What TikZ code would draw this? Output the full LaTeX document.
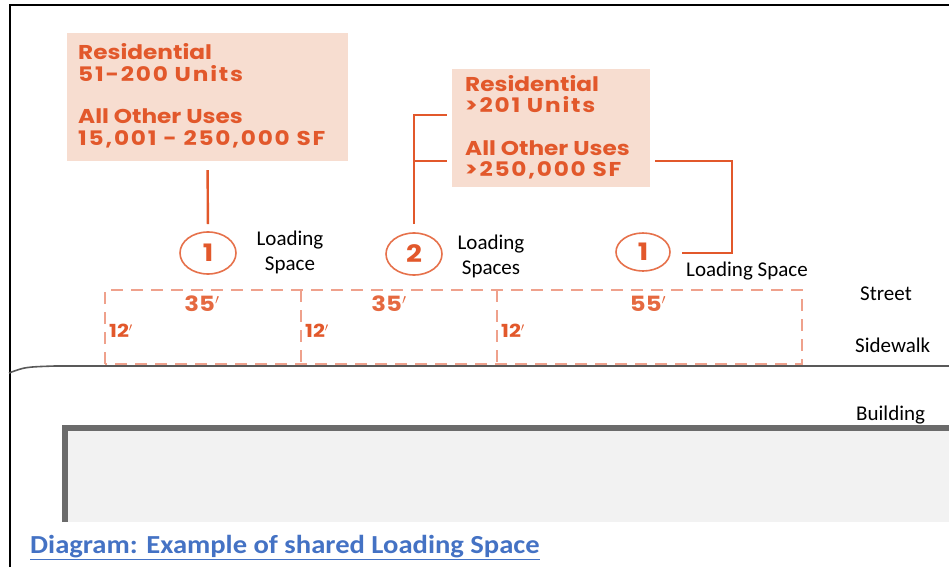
\documentclass[tikz,border=0pt]{standalone}
\usepackage{fontspec}
\setmainfont{Carlito}
\newfontfamily\geo[FakeStretch=1.16]{Poppins}
\newfontfamily\geonum[FakeStretch=1.16, LetterSpace=9]{Poppins}
\newfontfamily\capfont[FakeStretch=1.1]{Carlito}
\usetikzlibrary{shapes.geometric}
\definecolor{orng}{HTML}{E2582B}
\definecolor{peach}{HTML}{F7DDD0}
\definecolor{dashc}{HTML}{EFA18C}
\definecolor{capblue}{HTML}{4472C4}
\definecolor{bldg}{HTML}{6B6B6B}
\definecolor{bldgfill}{HTML}{F2F2F2}
\tikzset{
  x=1pt, y=-1pt,
  infobox/.style={fill=peach, draw=none, inner sep=0pt},
  otext/.style={anchor=base west, inner sep=0pt, text=orng, font=\geo\bfseries\fontsize{20}{22}\selectfont},
  ntext/.style={anchor=base west, inner sep=0pt, text=orng, font=\geonum\bfseries\fontsize{20}{22}\selectfont},
  num/.style={ellipse, draw=orng!85, line width=1.6pt, minimum width=56pt, minimum height=42pt, inner sep=0pt, text=orng, font=\geo\bfseries\fontsize{24}{28}\selectfont},
  conn/.style={draw=orng, line width=1.6pt},
  blabel/.style={inner sep=0pt, text=black, font=\fontsize{21}{25}\selectfont, align=center},
  dimline/.style={draw=dashc, line width=1.8pt, dash pattern=on 12pt off 8pt},
  dimtext/.style={inner sep=0pt, text=orng!90, font=\geo\bfseries\fontsize{21}{22}\selectfont},
  dimsmall/.style={inner sep=0pt, text=orng, font=\geo\bfseries\fontsize{18}{18}\selectfont},
}
\newcommand{\prm}{\ensuremath{^{\prime}}}
\begin{document}
\begin{tikzpicture}
\useasboundingbox (0,0) rectangle (949,567);
% frame
\draw[black, line width=1.5pt] (10,567) -- (10,5) -- (949,5);
% info boxes
\node[infobox, minimum width=281pt, minimum height=128pt] (box1) at (207.5,97) {};
\node[otext] (b1a) at (78,60) {Residential};
\node[ntext] (b1b) at (78,82) {51-200 Units};
\node[otext] (b1c) at (78,123) {All Other Uses};
\node[ntext] (b1d) at (78,145) {15,001 - 250,000 SF};
\node[infobox, minimum width=198pt, minimum height=118pt] (box2) at (551,128) {};
\node[otext] (b2a) at (465,92) {Residential};
\node[ntext] (b2b) at (465,113) {>201 Units};
\node[otext] (b2c) at (465,155) {All Other Uses};
\node[ntext] (b2d) at (465,176) {>250,000 SF};
% numbered ellipses
\node[num] (c1) at (208,253) {1};
\node[num] (c2) at (414,254) {2};
\node[num, minimum width=54pt, minimum height=38pt] (c3) at (643,252) {1};
% connectors
\draw[conn, line width=2.4pt, shorten <=9pt, shorten >=7pt] (box1.south) -- (c1.north);
\coordinate (k1) at (447,115);
\coordinate (k2) at (447,161);
\draw[conn, shorten <=8pt] (c2.north) -- (c2.north |- k1) -- (k1);
\draw[conn] (c2.north |- k2) -- (k2);
\coordinate (k3) at (655,161);
\coordinate (k4) at (732,253);
\draw[conn, shorten >=11pt] (k3) -- (k4 |- k3) -- (k4) -- (c3.east |- k4);
% black labels
\node[blabel] (l1) at (290,252) {Loading\\Space};
\node[blabel] (l2) at (491,256) {Loading\\Spaces};
\node[blabel, anchor=base west] (l3) at (686,276) {Loading Space};
\node[blabel, anchor=base west] (st) at (860,300) {Street};
\node[blabel, anchor=base west] (sw) at (855,352) {Sidewalk};
\node[blabel, anchor=base west] (bd) at (856,420) {Building};
% sidewalk edge
\draw[gray!70!black, line width=1.6pt] (9,373) .. controls (25,367) .. (55,366) -- (949,366);
% loading spaces
\draw[dimline] (105,364) -- (105,290) -- (802,290) -- (802,364) -- cycle;
\draw[dimline] (301,290) -- (301,364);
\draw[dimline] (497,290) -- (497,364);
\node[dimtext] (d1) at (202,304) {35\prm};
\node[dimtext] (d2) at (389,304) {35\prm};
\node[dimtext] (d3) at (648,304) {55\prm};
\node[dimsmall, anchor=west] (e1) at (109,331) {12\prm};
\node[dimsmall, anchor=west] (e2) at (305,331) {12\prm};
\node[dimsmall, anchor=west] (e3) at (501,331) {12\prm};
% building
\fill[bldgfill] (65,428) rectangle (949,522);
\draw[bldg, line width=6pt] (65,522) -- (65,428) -- (949,428);
% caption
\node[anchor=base west, inner sep=0pt, text=capblue, font=\capfont\bfseries\fontsize{26}{30}\selectfont] (cap) at (30,553) {\underline{Diagram: Example of shared Loading Space}};
\end{tikzpicture}
\end{document}
